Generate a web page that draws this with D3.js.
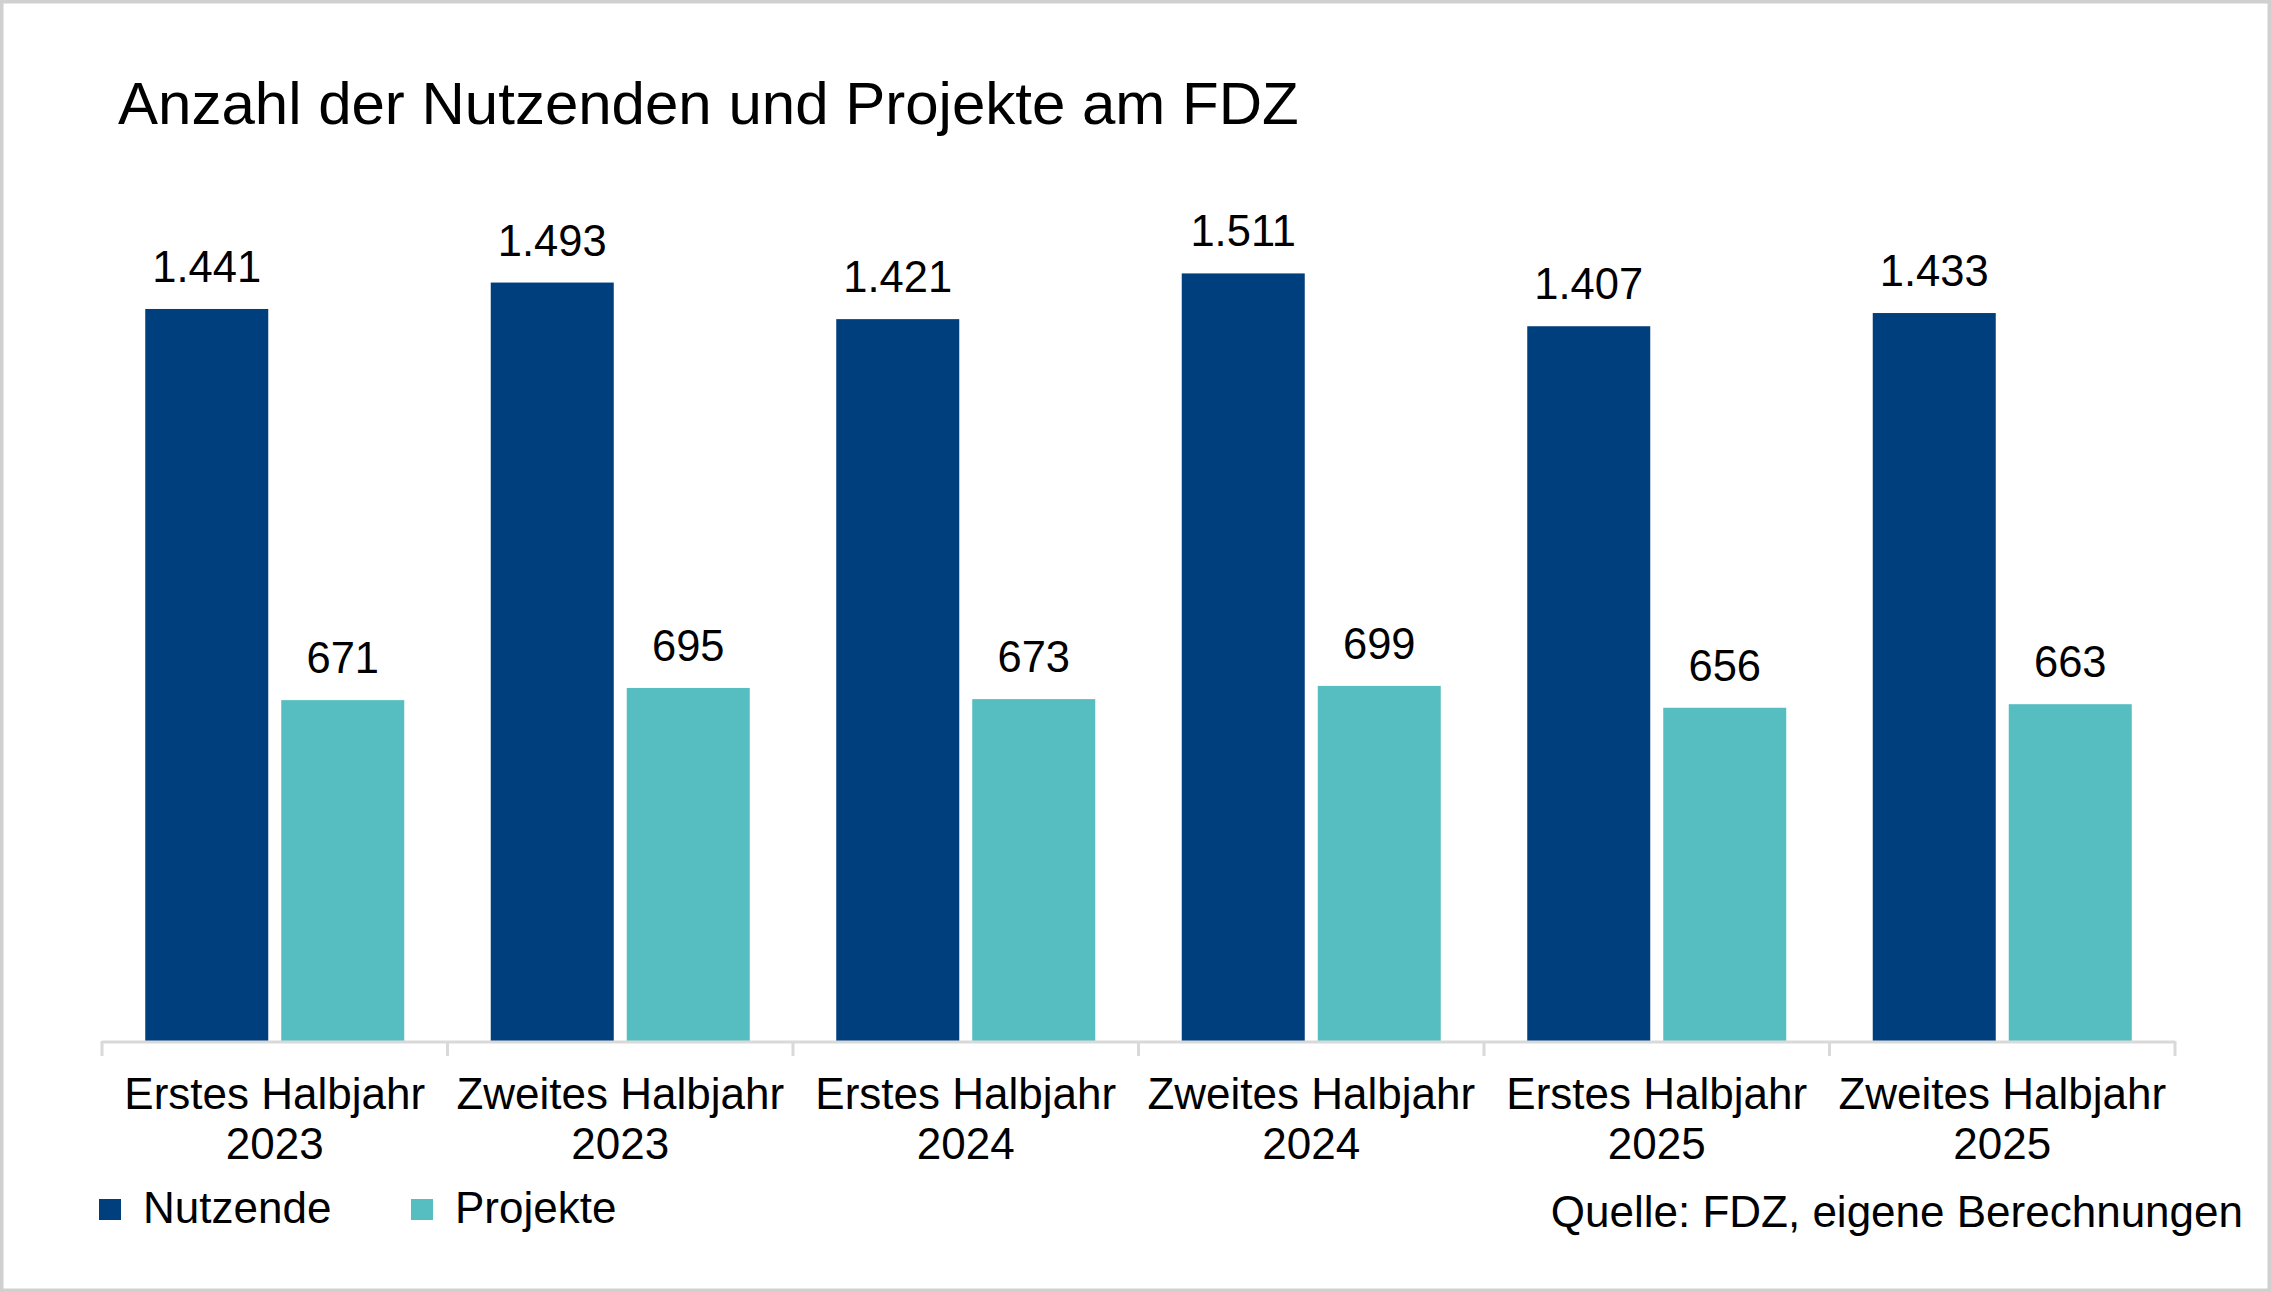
<!DOCTYPE html>
<html><head><meta charset="utf-8">
<script src="https://cdn.jsdelivr.net/npm/d3@7"></script>
<style>body{margin:0;background:#fff}svg{display:block}text{font-family:"Liberation Sans",Arial,sans-serif;fill:#000}</style>
</head><body>
<script>
const categories = [["Erstes Halbjahr","2023"],["Zweites Halbjahr","2023"],["Erstes Halbjahr","2024"],["Zweites Halbjahr","2024"],["Erstes Halbjahr","2025"],["Zweites Halbjahr","2025"]];
const seriesNames = ["Nutzende","Projekte"];
const nutzende = [1441,1493,1421,1511,1407,1433];
const projekte = [671,695,673,699,656,663];
const labelsN = ["1.441","1.493","1.421","1.511","1.407","1.433"];
const labelsP = ["671","695","673","699","656","663"];
const colors = ["#003f7d","#56bec0"];
const title = "Anzahl der Nutzenden und Projekte am FDZ";
const source = "Quelle: FDZ, eigene Berechnungen";

const W=2271,H=1292;
const svg=d3.select("body").append("svg").attr("width",W).attr("height",H);
svg.append("rect").attr("x",1.75).attr("y",1.75).attr("width",W-3.5).attr("height",H-3.5)
  .attr("fill","#fff").attr("stroke","#d0d0d0").attr("stroke-width",3.5);

svg.append("text").attr("x",118).attr("y",124).attr("font-size",60).text(title);

const base=1041;
const y=d3.scaleLinear().domain([0,1600]).range([base,base-812.8]);
const keys=categories.map((c,i)=>i);
const x0=d3.scaleBand().domain(keys).range([102,2175]).padding(0);
const bw=x0.bandwidth();
const x1=d3.scaleBand().domain(seriesNames).range([(bw-259)/2,(bw+259)/2]).paddingInner(13/136).paddingOuter(0);

const data=[nutzende,projekte];
const labs=[labelsN,labelsP];
seriesNames.forEach((s,si)=>{
  const g=svg.append("g");
  g.selectAll("rect").data(data[si]).join("rect")
    .attr("x",(d,i)=>x0(i)+x1(s)).attr("width",x1.bandwidth())
    .attr("y",d=>y(d)).attr("height",d=>base-y(d)).attr("fill",colors[si]);
  g.selectAll("text").data(data[si]).join("text")
    .attr("x",(d,i)=>x0(i)+x1(s)+x1.bandwidth()/2).attr("y",d=>y(d)-27)
    .attr("text-anchor","middle").attr("font-size",43.5).text((d,i)=>labs[si][i]);
});

// axis
const ax=svg.append("g").attr("transform",`translate(0,${base+1})`);
ax.append("line").attr("x1",102).attr("x2",2175).attr("stroke","#d9d9d9").attr("stroke-width",3);
const tickPos=keys.map(i=>x0(i)).concat([2175]);
ax.selectAll(".tk").data(tickPos).join("line").attr("class","tk")
  .attr("x1",d=>d).attr("x2",d=>d).attr("y1",-1).attr("y2",14).attr("stroke","#d9d9d9").attr("stroke-width",3);
const cl=svg.append("g");
categories.forEach((c,i)=>{
  const t=cl.append("text").attr("text-anchor","middle").attr("font-size",44);
  t.append("tspan").attr("x",x0(i)+bw/2).attr("y",1109).text(c[0]);
  t.append("tspan").attr("x",x0(i)+bw/2).attr("y",1159).text(c[1]);
});

// legend
const lx=[99,411];
seriesNames.forEach((s,si)=>{
  svg.append("rect").attr("x",lx[si]).attr("y",1199).attr("width",22).attr("height",21).attr("fill",colors[si]);
  svg.append("text").attr("x",lx[si]+44).attr("y",1223).attr("font-size",44).text(s);
});
svg.append("text").attr("x",2243).attr("y",1227).attr("text-anchor","end").attr("font-size",44).text(source);
</script>
</body></html>
